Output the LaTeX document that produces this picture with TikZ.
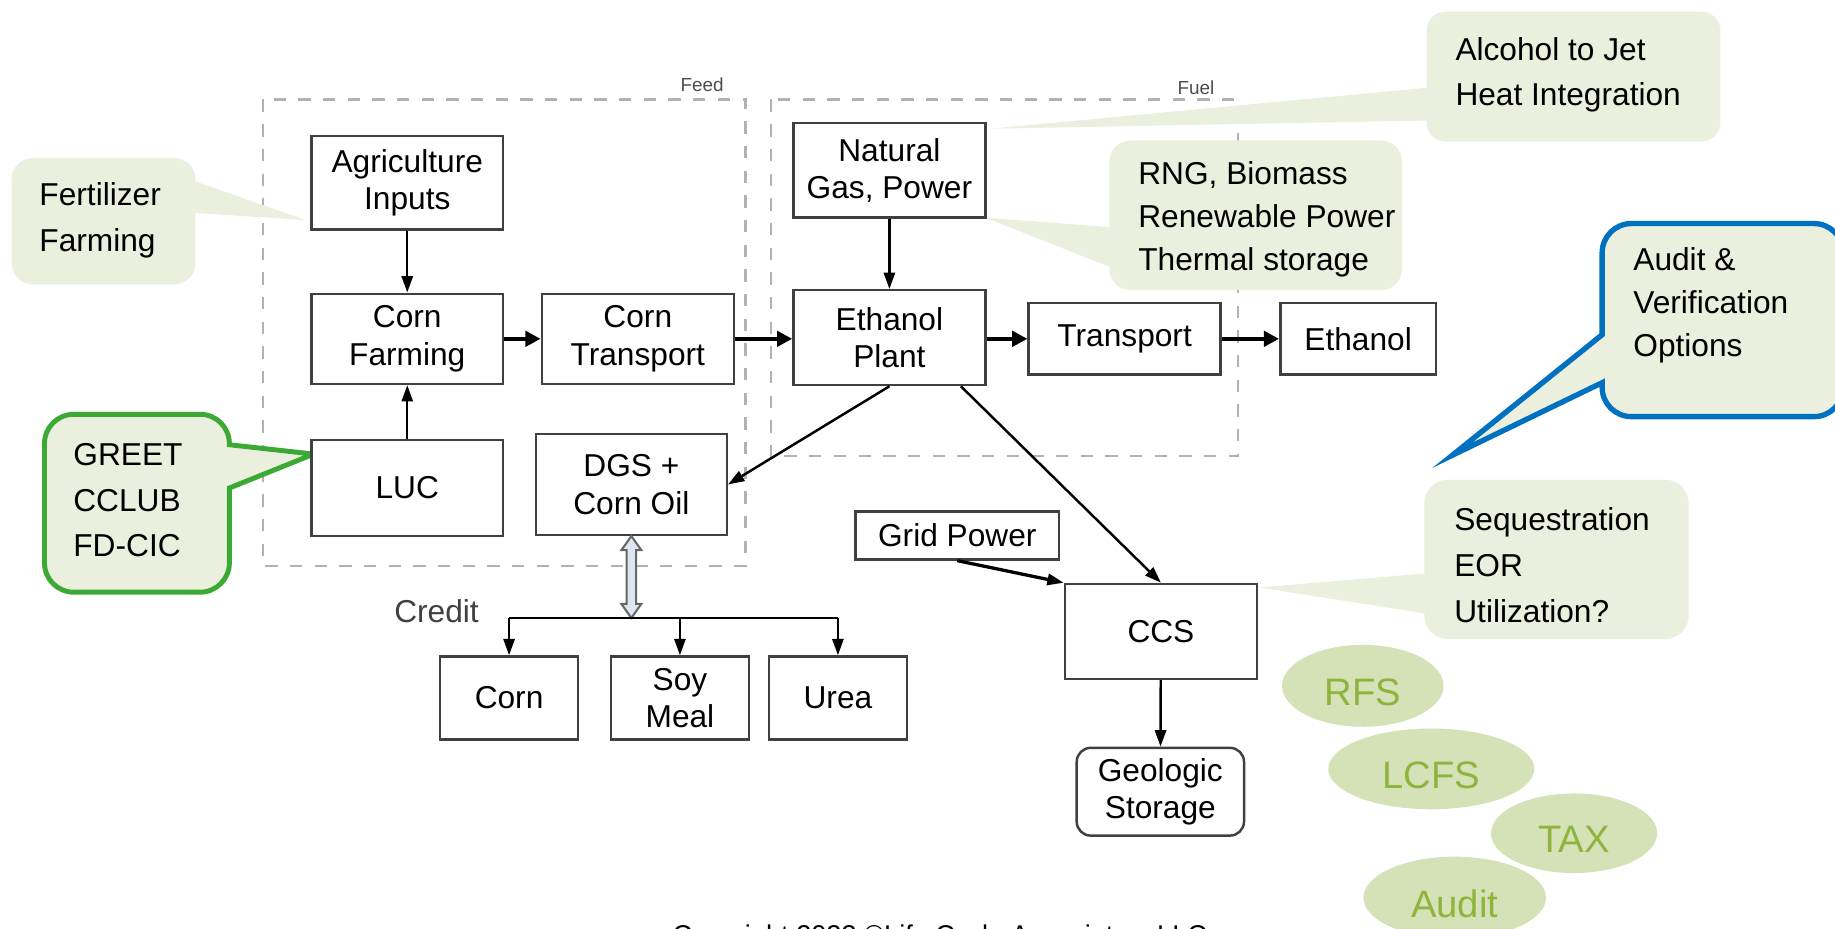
\documentclass[tikz,border=0pt]{standalone}
\usepackage{fontspec}
\setmainfont{Liberation Sans}
\usetikzlibrary{arrows.meta,shapes.geometric,calc}

\definecolor{notefill}{HTML}{EBF0DE}
\definecolor{greetline}{HTML}{3DA935}
\definecolor{auditline}{HTML}{0070C0}
\definecolor{badgefill}{HTML}{D5E1B6}
\definecolor{badgetext}{HTML}{8DB53E}
\definecolor{pipefill}{HTML}{DCE6F2}

\begin{document}
\begin{tikzpicture}[
    box/.style={draw=black!75, line width=0.6pt, fill=white, align=center, inner sep=0pt,
      font=\fontsize{7.7}{9.1}\selectfont},
    flow/.style={-{Triangle[length=1.4mm,width=0.95mm]}, line width=0.6pt},
    bigflow/.style={-{Triangle[length=1.3mm,width=1.3mm]}, line width=1.1pt},
    group/.style={draw=black!30, dashed, line width=0.5pt},
    tag/.style={font=\fontsize{4.6}{5}\selectfont, text=black!70, inner sep=0pt},
    memo/.style={anchor=west, align=left, inner sep=0pt, font=\fontsize{7.7}{11.1}\selectfont},
    badge/.style={ellipse, fill=badgefill, text=badgetext, inner sep=0pt, text height=9.5pt, text depth=0pt,
      font=\fontsize{9.3}{11}\selectfont}
  ]

  \useasboundingbox (0,0) rectangle (15.68,-7.93);
  \clip (0,0) rectangle (15.68,-7.93);

  % Feed and Fuel groups
  \draw[group] (2.25,-0.85) rectangle (6.37,-4.84);
  \draw[group] (6.59,-0.85) rectangle (10.58,-3.90);
  \node[tag] (feedtag) at (6.00,-0.72) {Feed};
  \node[tag] (fueltag) at (10.22,-0.75) {Fuel};

  % callouts
  \fill[notefill] (1.67,-1.55) -- (2.61,-1.88) -- (1.67,-1.82) [rounded corners=0.18cm]
    -- (1.67,-2.43) -- (0.10,-2.43) -- (0.10,-1.35) -- (1.67,-1.35) [sharp corners] -- cycle;
  \node[memo] (fert) at (0.33,-1.88) {Fertilizer\\Farming};

  \fill[notefill] (12.19,-0.75) -- (8.46,-1.10) -- (12.19,-1.03) [rounded corners=0.16cm]
    -- (12.19,-1.21) -- (14.70,-1.21) -- (14.70,-0.10) -- (12.19,-0.10) [sharp corners] -- cycle;
  \node[memo] (jet) at (12.43,-0.64) {Alcohol to Jet\\Heat Integration};

  \fill[notefill] (9.48,-1.94) -- (8.42,-1.86) -- (9.48,-2.28) [rounded corners=0.18cm]
    -- (9.48,-2.48) -- (11.98,-2.48) -- (11.98,-1.20) -- (9.48,-1.20) [sharp corners] -- cycle;
  \node[memo, font=\fontsize{7.7}{10.4}\selectfont] (rng) at (9.72,-1.875) {RNG, Biomass\\Renewable Power\\Thermal storage};

  \filldraw[fill=notefill, draw=greetline, line width=1.2pt] (1.96,-3.80) -- (2.68,-3.88) -- (1.96,-4.17)
    [rounded corners=0.25cm] -- (1.96,-5.06) -- (0.38,-5.06) -- (0.38,-3.54) -- (1.96,-3.54) [sharp corners] -- cycle;
  \node[memo] (greet) at (0.62,-4.275) {GREET\\CCLUB\\FD-CIC};

  \filldraw[fill=notefill, draw=auditline, line width=1.3pt] (13.69,-2.86) -- (12.41,-3.89) -- (13.69,-3.27)
    [rounded corners=0.25cm] -- (13.69,-3.56) -- (15.75,-3.56) -- (15.75,-1.91) -- (13.69,-1.91) [sharp corners] -- cycle;
  \node[memo, font=\fontsize{7.7}{10.4}\selectfont] (verify) at (13.95,-2.61) {Audit \&\\Verification\\Options};

  \fill[notefill] (12.17,-4.90) -- (10.76,-5.02) -- (12.17,-5.24) [rounded corners=0.2cm]
    -- (12.17,-5.46) -- (14.43,-5.46) -- (14.43,-4.10) -- (12.17,-4.10) [sharp corners] -- cycle;
  \node[memo] (seq) at (12.42,-4.83) {Sequestration\\EOR\\Utilization?};

  % process blocks
  \node[box, minimum width=1.64cm, minimum height=0.80cm] (agri) at (3.48,-1.56) {Agriculture\\Inputs};
  \node[box, minimum width=1.64cm, minimum height=0.77cm] (cfarm) at (3.48,-2.895) {Corn\\Farming};
  \node[box, minimum width=1.64cm, minimum height=0.77cm] (ctrans) at (5.45,-2.895) {Corn\\Transport};
  \node[box, minimum width=1.64cm, minimum height=0.82cm] (luc) at (3.48,-4.17) {LUC};
  \node[box, minimum width=1.63cm, minimum height=0.86cm] (dgs) at (5.395,-4.14) {DGS +\\Corn Oil};

  \node[box, minimum width=1.64cm, minimum height=0.81cm] (ngas) at (7.60,-1.455) {Natural\\Gas, Power};
  \node[box, minimum width=1.64cm, minimum height=0.81cm] (plant) at (7.60,-2.885) {Ethanol\\Plant};
  \node[box, minimum width=1.64cm, minimum height=0.61cm] (trans) at (9.61,-2.895) {Transport};
  \node[box, minimum width=1.33cm, minimum height=0.61cm] (ethanol) at (11.605,-2.895) {Ethanol};

  \node[box, minimum width=1.74cm, minimum height=0.41cm] (grid) at (8.18,-4.575) {Grid Power};
  \node[box, minimum width=1.64cm, minimum height=0.81cm] (ccs) at (9.92,-5.395) {CCS};
  \node[box, rounded corners=0.12cm, minimum width=1.43cm, minimum height=0.75cm] (geo) at (9.915,-6.765) {Geologic\\Storage};

  \node[box, minimum width=1.18cm, minimum height=0.71cm] (corn) at (4.35,-5.965) {Corn};
  \node[box, minimum width=1.18cm, minimum height=0.71cm] (soy) at (5.81,-5.965) {Soy\\Meal};
  \node[box, minimum width=1.18cm, minimum height=0.71cm] (urea) at (7.16,-5.965) {Urea};
  \node[font=\fontsize{7.7}{9}\selectfont, text=black!75, inner sep=0pt] (credit) at (3.73,-5.22) {Credit};

  % flows
  \draw[flow] (agri) -- (cfarm);
  \draw[flow] (luc) -- (cfarm);
  \draw[bigflow] (cfarm) -- (ctrans);
  \draw[bigflow] (ctrans.east) -- (ctrans.east -| plant.west);
  \draw[flow] (ngas) -- (plant);
  \draw[bigflow] (plant.east |- trans.west) -- (trans.west);
  \draw[bigflow] (trans) -- (ethanol);
  \draw[flow] (plant.south) -- (dgs.east);
  \draw[flow] ($(plant.south east)+(-0.22,0)$) -- (ccs.north);
  \draw[flow, line width=0.8pt] (grid.south) -- (ccs.north west);
  \draw[flow] (ccs) -- (geo);

  % co-product credits
  \coordinate (bus) at (5.395,-5.28);
  \filldraw[fill=pipefill, draw=black!60, line width=0.5pt] (dgs.south) -- ++(0.085,-0.12) -- ++(-0.045,0)
    -- ++(0,-0.46) -- ++(0.045,0) -- ++(-0.085,-0.12) -- ++(-0.085,0.12) -- ++(0.045,0) -- ++(0,0.46)
    -- ++(-0.045,0) -- cycle;
  \draw[line width=0.6pt] (corn.north |- bus) -- (urea.north |- bus);
  \draw[flow] (corn.north |- bus) -- (corn.north);
  \draw[flow] (soy.north |- bus) -- (soy.north);
  \draw[flow] (urea.north |- bus) -- (urea.north);

  % programs
  \node[badge, minimum width=1.38cm, minimum height=0.70cm] (rfs) at (11.645,-5.86) {RFS};
  \node[badge, minimum width=1.76cm, minimum height=0.69cm] (lcfs) at (12.23,-6.57) {LCFS};
  \node[badge, minimum width=1.42cm, minimum height=0.68cm] (tax) at (13.45,-7.12) {TAX};
  \node[badge, minimum width=1.56cm, minimum height=0.70cm] (audit) at (12.43,-7.67) {Audit};

  \node[anchor=base west, inner sep=0pt, font=\fontsize{6.6}{8}\selectfont] (copy) at (5.74,-8.07)
    {Copyright 2023 \textcopyright Life Cycle Associates, LLC};

\end{tikzpicture}
\end{document}
